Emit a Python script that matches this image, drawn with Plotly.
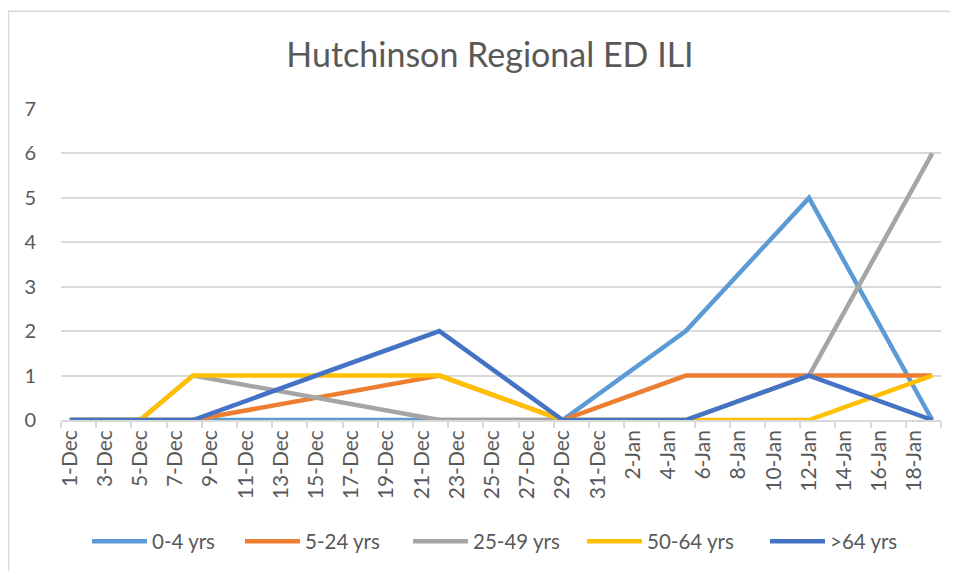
import plotly.graph_objects as go
import pandas as pd

dates = ["2019-12-01", "2019-12-05", "2019-12-08", "2019-12-22",
         "2019-12-29", "2020-01-05", "2020-01-12", "2020-01-19"]
age_0_4 = [0, 0, 0, 0, 0, 2, 5, 0]
age_5_24 = [0, 0, 0, 1, 0, 1, 1, 1]
age_25_49 = [0, 0, 1, 0, 0, 0, 1, 6]
age_50_64 = [0, 0, 1, 1, 0, 0, 0, 1]
age_64p = [0, 0, 0, 2, 0, 0, 1, 0]

series_names = ["0-4 yrs", "5-24 yrs", "25-49 yrs", "50-64 yrs", ">64 yrs"]
series_vals = [age_0_4, age_5_24, age_25_49, age_50_64, age_64p]
colors = ["#5B9BD5", "#ED7D31", "#A5A5A5", "#FFC000", "#4472C4"]

tick_dates = pd.date_range("2019-12-01", "2020-01-18", freq="2D")
tick_labels = [f"{d.day}-{d.strftime('%b')}" for d in tick_dates]

FONT = "Lato"
TXT = "#595959"
GRID = "#D9D9D9"

# page body has an 8px margin, so the figure is drawn 8px in
OFF = 8
W, H = 958 - 2 * OFF, 579 - 2 * OFF
L, R = 61 - OFF, W - (941 - OFF)
T, B = 109 - OFF, H - (424 - OFF)
pw, ph = W - L - R, H - T - B

def px(x):
    return (x - OFF - L) / pw

def py(y):
    return (H - B - (y - OFF)) / ph

legend_ids = ["legend", "legend2", "legend3", "legend4", "legend5"]
legend_left = [92, 245, 413, 587, 770]

fig = go.Figure()
for name, vals, c, lid in zip(series_names, series_vals, colors, legend_ids):
    fig.add_trace(go.Scatter(x=dates, y=vals, name=name, mode="lines",
                             legend=lid, line=dict(color=c, width=4.5)))

legends = {}
for lid, lx in zip(legend_ids, legend_left):
    legends[lid] = dict(orientation="h", x=px(lx - 5), xanchor="left",
                        y=py(547), yanchor="middle", itemwidth=55,
                        bgcolor="rgba(0,0,0,0)",
                        font=dict(family=FONT, size=20.5, color=TXT))

fig.update_layout(
    width=W, height=H,
    margin=dict(l=L, r=R, t=T, b=B),
    paper_bgcolor="white", plot_bgcolor="white",
    font=dict(family=FONT, color=TXT),
    title=dict(text="Hutchinson Regional ED ILI", x=px(490), xanchor="center",
               xref="paper", y=1 - (55 - OFF) / H, yanchor="middle",
               font=dict(family=FONT, size=34, color=TXT)),
    showlegend=True,
    xaxis=dict(type="date",
               range=["2019-11-30 12:00", "2020-01-19 12:00"],
               tickvals=list(tick_dates), ticktext=tick_labels,
               tickangle=-90, ticks="", showgrid=False,
               showline=True, linecolor=GRID, linewidth=1.5,
               tickfont=dict(family=FONT, size=21, color=TXT),
               minor=dict(ticks="outside", ticklen=6, tickcolor=GRID,
                          tickwidth=1.5, dtick=2 * 86400000,
                          tick0="2019-11-30 12:00", showgrid=False),
               automargin=False, fixedrange=True),
    yaxis=dict(range=[0, 7], dtick=1, showgrid=True, gridcolor=GRID,
               gridwidth=1.5, zeroline=False, showline=False,
               tickfont=dict(family=FONT, size=20, color=TXT),
               ticklabelstandoff=24, automargin=False, fixedrange=True),
    shapes=[dict(type="rect", xref="paper", yref="paper",
                 x0=px(8.5), x1=px(990), y0=py(10), y1=py(600),
                 line=dict(color=GRID, width=1.5), layer="below")],
    **legends,
)

fig.write_html("out.html")
